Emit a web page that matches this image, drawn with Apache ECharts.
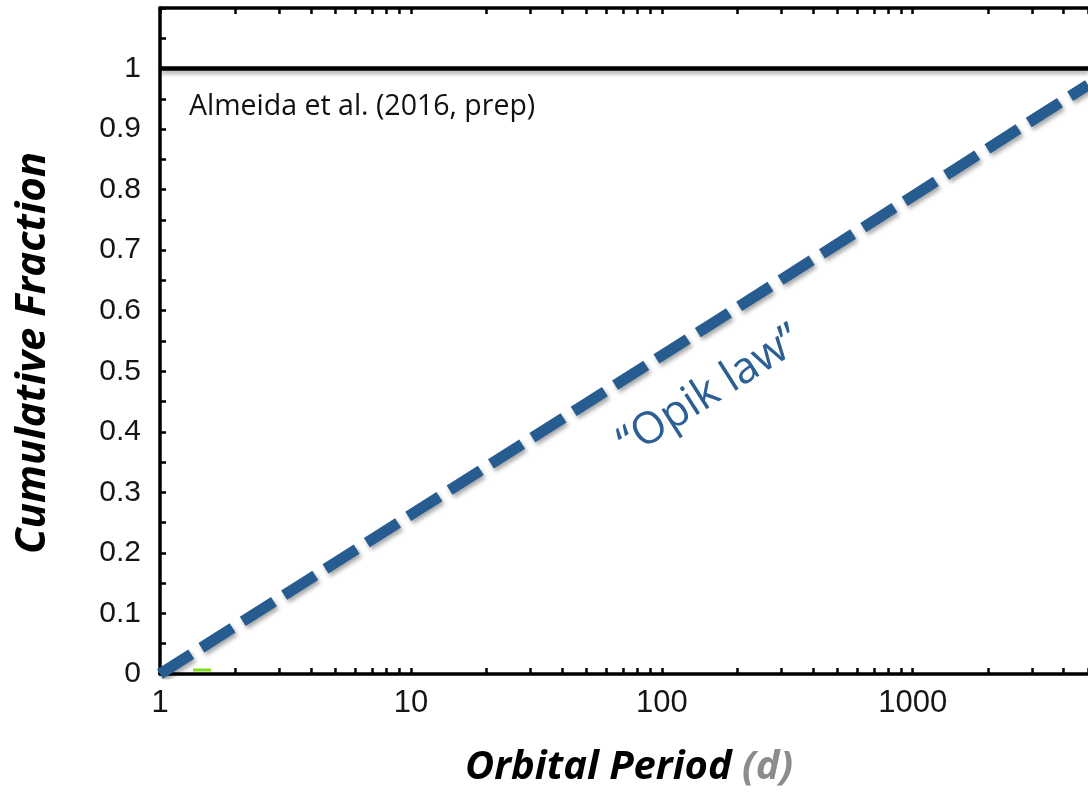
<!DOCTYPE html>
<html>
<head>
<meta charset="utf-8">
<script src="https://cdn.jsdelivr.net/npm/echarts@6/dist/echarts.min.js"></script>
<style>
html,body{margin:0;padding:0;background:#fff;}
#c{width:1088px;height:793px;}
</style>
</head>
<body>
<div id="c"></div>
<script>
// ---- data ----
var xMin = 1, xMax = 5000;
var yMin = 0, yMax = 1.1;
var xMajorLabels = [1, 10, 100, 1000];
var xTickValues = [1,2,3,4,5,6,7,8,9,10,20,30,40,50,60,70,80,90,100,200,300,400,500,600,700,800,900,1000,2000,3000,4000,5000];
var almeidaLine = [[1, 1], [5000, 1]];
var opikLaw = [[1, 0.0], [5000, 0.973]];
var greenSegment = [[1.354, 0.0066], [1.597, 0.0066]];

var chart = echarts.init(document.getElementById('c'), null, {renderer: 'canvas'});
var tickFont = '"Liberation Sans", Arial, sans-serif';
var titleFont = '"Open Sans", "Lato", sans-serif';
var logTicks = xTickValues.map(function (v) { return Math.log10(v); });

var tickStyle = {show: true, inside: true, length: 6, lineStyle: {color: '#000', width: 2.5}};

var option = {
  animation: false,
  backgroundColor: '#fff',
  grid: {left: 160, right: 0, top: 8, bottom: 119, containLabel: false},
  xAxis: [
    {
      type: 'log', logBase: 10, min: xMin, max: xMax, position: 'bottom',
      axisLine: {show: true, lineStyle: {color: '#000', width: 3.5}},
      axisTick: {show: false},
      splitLine: {show: false},
      axisLabel: {
        show: true, margin: 14, fontSize: 31, color: '#151515', fontFamily: tickFont,
        showMaxLabel: false,
        formatter: function (v) {
          for (var i = 0; i < xMajorLabels.length; i++) {
            if (Math.abs(v - xMajorLabels[i]) < 1e-6 * xMajorLabels[i]) return String(xMajorLabels[i]);
          }
          return '';
        }
      }
    },
    {
      type: 'value', min: Math.log10(xMin), max: Math.log10(xMax), position: 'bottom',
      axisLine: {show: false}, splitLine: {show: false}, axisLabel: {show: false},
      axisTick: Object.assign({customValues: logTicks}, tickStyle)
    },
    {
      type: 'value', min: Math.log10(xMin), max: Math.log10(xMax), position: 'top',
      axisLine: {show: true, lineStyle: {color: '#000', width: 3.5}},
      splitLine: {show: false}, axisLabel: {show: false},
      axisTick: Object.assign({customValues: logTicks}, tickStyle)
    }
  ],
  yAxis: [
    {
      type: 'value', min: yMin, max: yMax, interval: 0.1, position: 'left',
      axisLine: {show: true, lineStyle: {color: '#000', width: 3.5}},
      axisTick: tickStyle,
      minorTick: {show: true, splitNumber: 2, length: 6, lineStyle: {color: '#000', width: 2.5}},
      splitLine: {show: false},
      axisLabel: {
        margin: 19, fontSize: 30, color: '#151515', fontFamily: tickFont,
        formatter: function (v) {
          if (v > 1.05) return '';
          return String(Math.round(v * 10) / 10);
        }
      }
    }
  ],
  series: [
    {
      type: 'line', name: 'Almeida', xAxisIndex: 0, yAxisIndex: 0,
      data: almeidaLine, symbol: 'none', silent: true,
      lineStyle: {color: '#000', width: 4.5, shadowColor: 'rgba(0,0,0,0.35)', shadowBlur: 4, shadowOffsetX: 1, shadowOffsetY: 3},
      z: 3
    },
    {
      type: 'line', name: 'Opik', xAxisIndex: 0, yAxisIndex: 0,
      data: opikLaw, symbol: 'none', silent: true,
      lineStyle: {color: '#275c91', width: 11, type: [37, 12], cap: 'butt',
        shadowColor: 'rgba(0,0,0,0.35)', shadowBlur: 4, shadowOffsetX: 2, shadowOffsetY: 3},
      z: 4
    },
    {
      type: 'line', name: 'green', xAxisIndex: 0, yAxisIndex: 0,
      data: greenSegment, symbol: 'none', silent: true,
      lineStyle: {color: '#7fe01a', width: 3},
      z: 2
    }
  ],
  graphic: [
    {
      type: 'text', left: 189, top: 92,
      style: {text: 'Almeida et al. (2016, prep)', fill: '#111', font: '28.5px "Open Sans", sans-serif'}
    },
    {
      type: 'text', x: 710, y: 392, rotation: 32.4 * Math.PI / 180,
      style: {text: '\u201cOpik law\u201d', fill: '#2c5f94', font: '44px "Open Sans", sans-serif', align: 'center', verticalAlign: 'middle'}
    },
    {
      type: 'text', x: 33, y: 353, rotation: Math.PI / 2,
      style: {text: 'Cumulative Fraction', fill: '#000', font: 'italic bold 42px ' + titleFont, align: 'center', verticalAlign: 'middle'}
    },
    {
      type: 'text', x: 629, y: 768,
      style: {
        text: '{a|Orbital Period }{b|(d)}',
        align: 'center', verticalAlign: 'middle',
        rich: {
          a: {fill: '#000', fontFamily: titleFont, fontStyle: 'italic', fontWeight: 'bold', fontSize: 40},
          b: {fill: '#8c8c8c', fontFamily: titleFont, fontStyle: 'italic', fontWeight: 'bold', fontSize: 40}
        }
      }
    }
  ]
};
chart.setOption(option);
</script>
</body>
</html>
